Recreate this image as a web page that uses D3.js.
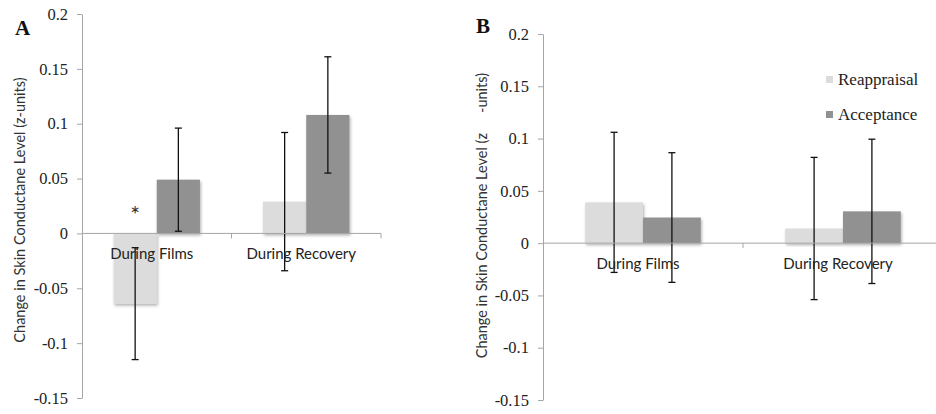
<!DOCTYPE html>
<meta charset="utf-8">
<style>
  body { margin: 0; background: #fff; }
  .cat { font-family: Lato, sans-serif; font-size: 15px; fill: #222; }
  .ylab { font-family: Lato, sans-serif; font-size: 14.5px; fill: #333; }
  .serif { font-family: "Liberation Serif", "Times New Roman", serif; font-size: 16.5px; fill: #222; }
  .leg { font-size: 17px; }
</style>
<svg width="936" height="414"></svg>
<script src="https://d3js.org/d3.v7.min.js"></script>
<script>
  const categories = ["During Films", "During Recovery"]
  const series = ["Reappraisal", "Acceptance"]
  const yTicks = [-0.15, -0.1, -0.05, 0, 0.05, 0.1, 0.15, 0.2]

  // panel A means and error half-widths
  const reappA = [-0.064, 0.029]
  const acceptA = [0.049, 0.108]
  const reappAErr = [0.051, 0.063]
  const acceptAErr = [0.047, 0.053]

  // panel B
  const reappB = [0.039, 0.014]
  const acceptB = [0.0245, 0.0304]
  const reappBErr = [0.067, 0.068]
  const acceptBErr = [0.062, 0.069]

  const colors = { Reappraisal: '#dcdcdc', Acceptance: '#919191' }

  const svg = d3.select('svg')

  // soft shadow like the spreadsheet bars
  svg.append('defs').append('filter')
    .attr('id', 'shadow')
    .attr('x', '-10%').attr('y', '-10%').attr('width', '130%').attr('height', '130%')
    .append('feDropShadow')
    .attr('dx', 1).attr('dy', 2).attr('stdDeviation', 1.5)
    .attr('flood-color', '#000').attr('flood-opacity', 0.3)

  function panel(opts) {
    const g = svg.append('g')
    const y = d3.scaleLinear().domain([-0.15, 0.2]).range([opts.bottom, opts.top])
    const x0 = d3.scaleBand().domain(categories).range([opts.left, opts.right])
    const x1 = d3.scaleBand().domain(series).range([0, x0.bandwidth()]).paddingOuter(0.73)

    const rows = categories.map((c, i) => ({
      cat: c,
      vals: [
        { s: 'Reappraisal', v: opts.reapp[i], e: opts.reappErr[i] },
        { s: 'Acceptance', v: opts.accept[i], e: opts.acceptErr[i] }
      ]
    }))

    // bars
    const groups = g.selectAll('.grp')
      .data(rows)
      .enter().append('g')
      .attr('transform', d => 'translate(' + x0(d.cat) + ',0)')

    groups.selectAll('rect')
      .data(d => d.vals)
      .enter().append('rect')
      .attr('x', d => x1(d.s))
      .attr('width', x1.bandwidth())
      .attr('y', d => y(Math.max(0, d.v)))
      .attr('height', d => Math.abs(y(d.v) - y(0)))
      .attr('fill', d => colors[d.s])
      .attr('filter', 'url(#shadow)')

    // y axis
    const yAxis = g.append('g')
      .attr('transform', 'translate(' + opts.left + ',0)')
      .call(d3.axisLeft(y).tickValues(yTicks).tickFormat(d => String(d)).tickSize(5).tickSizeOuter(0).tickPadding(9))
    yAxis.selectAll('.tick text').attr('class', 'serif')
    yAxis.selectAll('.domain, .tick line').attr('stroke', '#a6a6a6')

    // x axis at zero
    g.append('line')
      .attr('x1', opts.left).attr('x2', opts.axisEnd)
      .attr('y1', y(0)).attr('y2', y(0))
      .attr('stroke', '#a6a6a6')
    g.selectAll('.xtick')
      .data(categories)
      .enter().append('line')
      .attr('x1', d => x0(d) + x0.bandwidth()).attr('x2', d => x0(d) + x0.bandwidth())
      .attr('y1', y(0)).attr('y2', y(0) + 5)
      .attr('stroke', '#a6a6a6')

    // error bars
    const eb = groups.selectAll('.eb')
      .data(d => d.vals)
      .enter().append('g')
      .attr('stroke', '#111').attr('stroke-width', 1.3)
    const cx = d => x1(d.s) + x1.bandwidth() / 2
    eb.append('line')
      .attr('x1', cx).attr('x2', cx)
      .attr('y1', d => y(d.v + d.e)).attr('y2', d => y(d.v - d.e))
    eb.append('line')
      .attr('x1', d => cx(d) - 3.5).attr('x2', d => cx(d) + 3.5)
      .attr('y1', d => y(d.v + d.e)).attr('y2', d => y(d.v + d.e))
    eb.append('line')
      .attr('x1', d => cx(d) - 3.5).attr('x2', d => cx(d) + 3.5)
      .attr('y1', d => y(d.v - d.e)).attr('y2', d => y(d.v - d.e))

    // category labels
    g.selectAll('.cat')
      .data(categories)
      .enter().append('text')
      .attr('class', 'cat')
      .attr('x', d => x0(d) + x0.bandwidth() / 2 - 5)
      .attr('y', y(0) + 26)
      .attr('text-anchor', 'middle')
      .text(d => d)

    // panel letter
    g.append('text')
      .attr('class', 'serif')
      .attr('x', opts.letterX).attr('y', opts.letterY)
      .style('font-weight', 'bold').style('font-size', '21px')
      .style('fill', '#111')
      .text(opts.letter)

    return { g, x0, x1, y }
  }

  const A = panel({
    left: 82, right: 381, axisEnd: 381, top: 14, bottom: 398,
    reapp: reappA, accept: acceptA, reappErr: reappAErr, acceptErr: acceptAErr,
    letter: 'A', letterX: 15, letterY: 35
  })

  const B = panel({
    left: 543, right: 943, axisEnd: 936, top: 34, bottom: 400,
    reapp: reappB, accept: acceptB, reappErr: reappBErr, acceptErr: acceptBErr,
    letter: 'B', letterX: 476, letterY: 33
  })

  // significance star, panel A films reappraisal
  A.g.append('text')
    .attr('x', A.x0(categories[0]) + A.x1('Reappraisal') + A.x1.bandwidth() / 2)
    .attr('y', A.y(0) - 10)
    .attr('text-anchor', 'middle')
    .style('font-family', 'Lato, sans-serif').style('font-size', '23px')
    .style('fill', '#333')
    .text('*')

  // y axis titles
  A.g.append('text')
    .attr('class', 'ylab')
    .attr('transform', 'translate(25,' + ((14 + 398) / 2 + 4) + ') rotate(-90)')
    .attr('text-anchor', 'middle')
    .text('Change in Skin Conductane Level (z-units)')

  B.g.append('text')
    .attr('class', 'ylab')
    .attr('transform', 'translate(487,133) rotate(-90)')
    .attr('text-anchor', 'end')
    .text('Change in Skin Conductane Level (z')
  B.g.append('text')
    .attr('class', 'ylab')
    .attr('transform', 'translate(487,113) rotate(-90)')
    .attr('text-anchor', 'start')
    .text('-units)')

  // legend in panel B
  const legend = B.g.selectAll('.legitem')
    .data(series)
    .enter().append('g')
    .attr('transform', (d, i) => 'translate(826,' + (79 + i * 35) + ')')
  legend.append('rect')
    .attr('x', 0).attr('y', -3).attr('width', 7).attr('height', 7)
    .attr('fill', d => colors[d])
  legend.append('text')
    .attr('class', 'serif leg')
    .attr('x', 12).attr('y', 6)
    .text(d => d)
</script>
